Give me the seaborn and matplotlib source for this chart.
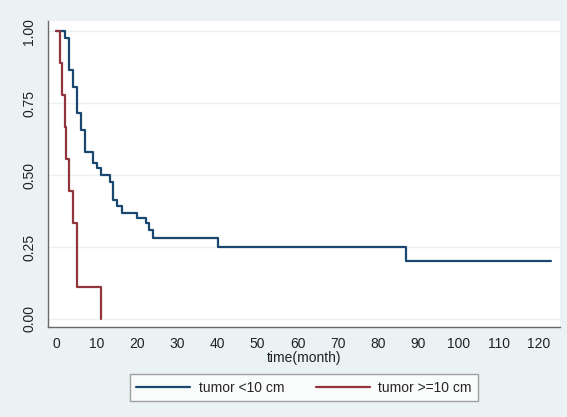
import numpy as np
import pandas as pd
import seaborn as sns
import matplotlib.pyplot as plt

# Kaplan-Meier estimates (time in months, survival)
small_time = [0, 2.1, 3.1, 4.1, 5.1, 6.2, 7.0, 9.1, 10.1, 11.2, 13.4, 14.1,
              15.1, 16.2, 20.1, 22.4, 23.0, 24.0, 40.2, 87.1, 123.1]
small_surv = [1.0, 0.977, 0.865, 0.807, 0.715, 0.656, 0.581, 0.54, 0.523, 0.5,
              0.477, 0.413, 0.392, 0.369, 0.35, 0.332, 0.309, 0.28, 0.251,
              0.202, 0.202]

large_time = [0, 1.0, 1.5, 2.1, 2.5, 3.1, 4.1, 5.0, 11.2]
large_surv = [1.0, 0.889, 0.778, 0.667, 0.556, 0.444, 0.333, 0.111, 0.0]

labels = ['tumor <10 cm', 'tumor >=10 cm']
colors = ['#1a476f', '#90353b']

x_ticks = list(range(0, 121, 10))
y_ticks = [0, 0.25, 0.5, 0.75, 1.0]
y_tick_labels = ['0.00', '0.25', '0.50', '0.75', '1.00']

sns.set_style('white')
plt.rcParams['font.family'] = ['Liberation Sans', 'DejaVu Sans']

bg = '#eaf2f3'
fig = plt.figure(figsize=(5.67, 4.17), dpi=100, facecolor=bg)
ax = fig.add_axes([48 / 567, 1 - 327 / 417, 512 / 567, 306 / 417])
ax.set_facecolor('white')

for t, s, lab, col in zip([small_time, large_time], [small_surv, large_surv],
                          labels, colors):
    sns.lineplot(x=t, y=s, ax=ax, drawstyle='steps-post', color=col,
                 linewidth=1.6, label=lab, estimator=None, sort=False)

ax.set_xlim(-2.1, 125.3)
ax.set_ylim(-0.028, 1.035)
ax.set_xticks(x_ticks)
ax.set_yticks(y_ticks)
ax.set_yticklabels(y_tick_labels, rotation=90, va='center')
ax.grid(axis='y', color=bg, linewidth=1)
ax.grid(axis='x', visible=False)
ax.set_axisbelow(True)

for side in ['top', 'right']:
    ax.spines[side].set_visible(False)
for side in ['left', 'bottom']:
    ax.spines[side].set_color('#6a6a6a')
    ax.spines[side].set_linewidth(1)

ax.tick_params(axis='both', direction='out', length=4.5, width=0.8,
               color='#6a6a6a', labelsize=10, labelcolor='#222222')
ax.tick_params(axis='x', pad=3)
ax.tick_params(axis='y', pad=4)
ax.set_xlabel('time(month)', fontsize=10, color='#222222', labelpad=0)
ax.set_ylabel('')

ax.get_legend().remove()
handles, labs = ax.get_legend_handles_labels()
leg = fig.legend(handles, labs, loc='center', bbox_to_anchor=(304 / 567, 1 - 387.5 / 417),
                 ncol=2, frameon=True, fancybox=False, fontsize=10,
                 handlelength=3.9, handletextpad=0.6, columnspacing=2.3,
                 borderpad=0.45, borderaxespad=0)
leg.get_frame().set_edgecolor('#8a8a8a')
leg.get_frame().set_linewidth(1)
for line in leg.get_lines():
    line.set_linewidth(1.6)

fig.savefig('out.png', dpi=100, facecolor=bg)
